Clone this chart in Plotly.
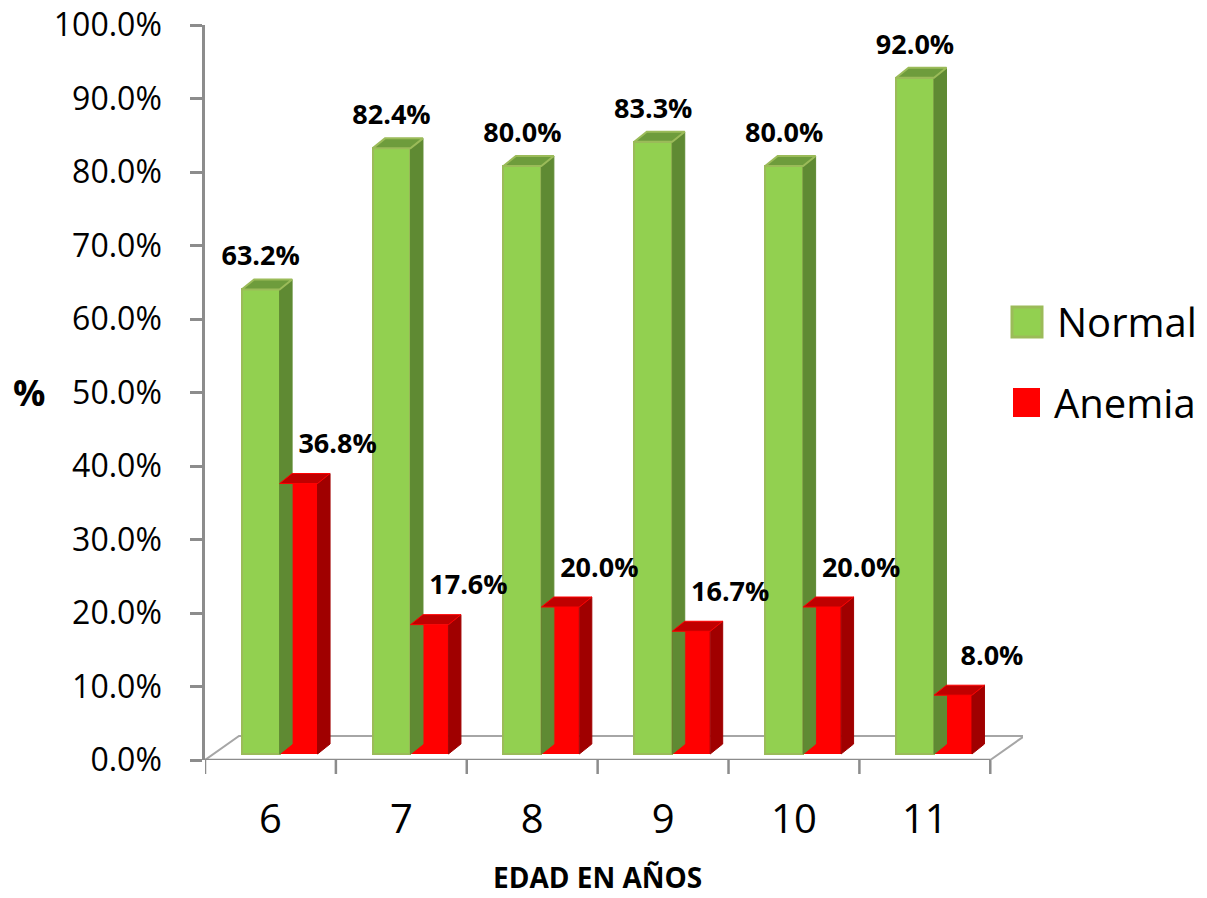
import plotly.graph_objects as go

# ---- data -------------------------------------------------------------
edades = ["6", "7", "8", "9", "10", "11"]
normal = [0.632, 0.824, 0.800, 0.833, 0.800, 0.920]
anemia = [0.368, 0.176, 0.200, 0.167, 0.200, 0.080]
y_ticks = [0.0, 0.1, 0.2, 0.3, 0.4, 0.5, 0.6, 0.7, 0.8, 0.9, 1.0]

# ---- geometry ----------------------------------------------------------
W, H = 1207, 898
ML, MR, MT, MB = 205, 184, 25, 138
X_RANGE = [-0.5, 5.75]
Y_RANGE = [0.0, 1.0]
PLOT_W = W - ML - MR
PLOT_H = H - MT - MB
PX_X = PLOT_W / (X_RANGE[1] - X_RANGE[0])   # pixels per category
PX_Y = PLOT_H / (Y_RANGE[1] - Y_RANGE[0])   # pixels per unit of y

BASE = 6 / PX_Y                 # bars stand slightly inside the floor
DX, DY = 12.5 / PX_X, 10 / PX_Y  # bar depth (oblique projection)
FLOOR_DX, FLOOR_DY = 34 / PX_X, 24 / PX_Y
BAR_W = 0.29
OFF_N, OFF_A = -0.22, 0.07

GREEN, GREEN_EDGE, GREEN_SIDE, GREEN_TOP = "#92D050", "#9BBB59", "#5F8A33", "#6E9C3C"
RED, RED_SIDE, RED_TOP = "#FF0000", "#A00000", "#C00000"
AXIS_GRAY = "#8C8C8C"
FONT = "Open Sans"

x_pos = list(range(len(edades)))


def px_to_paper(px, py):
    return (px - ML) / PLOT_W, (H - MB - py) / PLOT_H


def faces(values, offset):
    """Side and top polygons of the prism bars, separated by None."""
    sx, sy, tx, ty = [], [], [], []
    for i, v in zip(x_pos, values):
        xl = i + offset
        xr = xl + BAR_W
        top = BASE + v
        sx += [xr, xr + DX, xr + DX, xr, xr, None]
        sy += [BASE, BASE + DY, top + DY, top, BASE, None]
        tx += [xl, xl + DX, xr + DX, xr, xl, None]
        ty += [top, top + DY, top + DY, top, top, None]
    return sx, sy, tx, ty


fig = go.Figure()


def add_series(name, values, offset, front, edge, side, topc, edge_w):
    fig.add_trace(go.Bar(
        name=name, x=x_pos, y=values, base=BASE, offset=offset, width=BAR_W,
        marker=dict(color=front, line=dict(color=edge, width=edge_w)),
        showlegend=False, hoverinfo="skip",
    ))
    sx, sy, tx, ty = faces(values, offset)
    fig.add_trace(go.Scatter(
        x=sx, y=sy, mode="lines", fill="toself", fillcolor=side,
        line=dict(color=side, width=1), showlegend=False, hoverinfo="skip",
    ))
    fig.add_trace(go.Scatter(
        x=tx, y=ty, mode="lines", fill="toself", fillcolor=topc,
        line=dict(color=edge, width=edge_w if edge_w else 1),
        showlegend=False, hoverinfo="skip",
    ))


add_series("Normal", normal, OFF_N, GREEN, GREEN_EDGE, GREEN_SIDE, GREEN_TOP, 2)
add_series("Anemia", anemia, OFF_A, RED, RED, RED_SIDE, RED_TOP, 0)

# value labels
label_font = dict(family=FONT, size=27, color="black", weight="bold")
fig.add_trace(go.Scatter(
    x=[i + OFF_N + BAR_W / 2 for i in x_pos],
    y=[BASE + v + 31 / PX_Y for v in normal],
    mode="text", text=[f"{v:.1%}" for v in normal], textposition="middle center",
    textfont=label_font, showlegend=False, hoverinfo="skip", cliponaxis=False,
))
fig.add_trace(go.Scatter(
    x=[i + OFF_A + BAR_W / 2 + 39 / PX_X for i in x_pos],
    y=[BASE + v + 37 / PX_Y for v in anemia],
    mode="text", text=[f"{v:.1%}" for v in anemia], textposition="middle center",
    textfont=label_font, showlegend=False, hoverinfo="skip", cliponaxis=False,
))

# ---- floor and axes ----------------------------------------------------
shapes = []
x0, x1 = -0.5, len(edades) - 0.5
floor_path = (f"M {x0},0 L {x0 + FLOOR_DX},{FLOOR_DY} L {x1 + FLOOR_DX},{FLOOR_DY} "
              f"L {x1},0 Z")
shapes.append(dict(type="path", path=floor_path, xref="x", yref="y",
                   line=dict(color="#A6A6A6", width=2), layer="below"))
shapes.append(dict(type="line", x0=x0, x1=x1, y0=0, y1=0, xref="x", yref="y",
                   line=dict(color=AXIS_GRAY, width=2.5), layer="above"))
tick_len = 14 / PLOT_H
for k in range(len(edades) + 1):
    shapes.append(dict(type="line", x0=x0 + k, x1=x0 + k, y0=0, y1=-tick_len,
                       xref="x", yref="paper",
                       line=dict(color=AXIS_GRAY, width=2.5)))

# legend drawn as swatches + text
legend_items = [
    ("Normal", GREEN, GREEN_EDGE, 3, (1012, 307, 1042, 337), 1055, 321),
    ("Anemia", RED, RED, 0, (1013, 388, 1040, 417), 1052, 402),
]
annotations = []
for name, fill, edge, lw, (ax0, ay0, ax1, ay1), tx, ty in legend_items:
    px0, py0 = px_to_paper(ax0, ay1)
    px1, py1 = px_to_paper(ax1, ay0)
    shapes.append(dict(type="rect", xref="paper", yref="paper",
                       x0=px0, x1=px1, y0=py0, y1=py1, fillcolor=fill,
                       line=dict(color=edge, width=lw)))
    lx, ly = px_to_paper(tx, ty)
    annotations.append(dict(text=name, xref="paper", yref="paper", x=lx, y=ly,
                            xanchor="left", yanchor="middle", showarrow=False,
                            font=dict(family=FONT, size=40, color="black")))

# axis titles
tx, ty = px_to_paper(29, 393)
annotations.append(dict(text="%", xref="paper", yref="paper", x=tx, y=ty,
                        xanchor="center", yanchor="middle", showarrow=False,
                        font=dict(family=FONT, size=36, color="black", weight="bold")))
tx, ty = px_to_paper(597, 877)
annotations.append(dict(text="EDAD EN AÑOS", xref="paper", yref="paper", x=tx, y=ty,
                        xanchor="center", yanchor="middle", showarrow=False,
                        font=dict(family=FONT, size=28, color="black", weight="bold")))

fig.update_layout(
    width=W, height=H,
    margin=dict(l=ML, r=MR, t=MT, b=MB, pad=0, autoexpand=False),
    paper_bgcolor="white", plot_bgcolor="white",
    barmode="overlay", bargap=0,
    showlegend=False,
    shapes=shapes, annotations=annotations,
    xaxis=dict(range=X_RANGE, tickmode="array", tickvals=x_pos, ticktext=edades,
               showline=False, showgrid=False, zeroline=False, ticks="",
               tickfont=dict(family=FONT, size=40, color="black"), ticklabelstandoff=32,
               automargin=False, fixedrange=True),
    yaxis=dict(range=Y_RANGE, tickmode="array", tickvals=y_ticks,
               ticktext=[f"{t:.1%}" for t in y_ticks],
               showline=True, linecolor=AXIS_GRAY, linewidth=2.5,
               ticks="outside", ticklen=12, tickwidth=2.5, tickcolor=AXIS_GRAY,
               showgrid=False, zeroline=False,
               tickfont=dict(family=FONT, size=32, color="black"), ticklabelstandoff=22,
               automargin=False, fixedrange=True),
)

fig.write_html("out.html")
